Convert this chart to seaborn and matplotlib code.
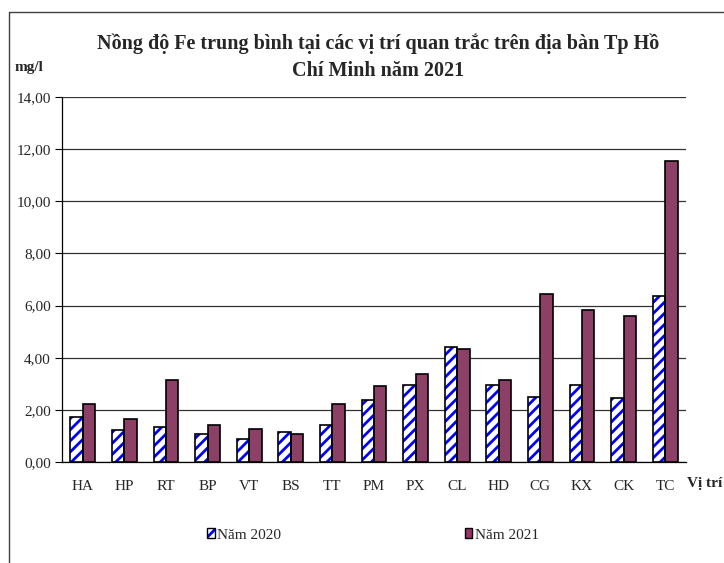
import numpy as np
import pandas as pd
import matplotlib
matplotlib.use("Agg")
import matplotlib.pyplot as plt
import seaborn as sns
from matplotlib.patches import Patch, Rectangle
from matplotlib.lines import Line2D


# ---- Data ----
vi_tri = ["HA", "HP", "RT", "BP", "VT", "BS", "TT", "PM",
          "PX", "CL", "HD", "CG", "KX", "CK", "TC"]
fe_2020 = [1.71, 1.24, 1.35, 1.09, 0.87, 1.15, 1.42, 2.37,
           2.97, 4.40, 2.97, 2.48, 2.97, 2.45, 6.37]
fe_2021 = [2.21, 1.64, 3.15, 1.43, 1.27, 1.09, 2.24, 2.92,
           3.39, 4.33, 3.16, 6.44, 5.84, 5.60, 11.55]
nam = ["Năm 2020", "Năm 2021"]
y_ticks = [0, 2, 4, 6, 8, 10, 12, 14]

RED = "#993366"
BLUE = "#0000ff"

sns.set_style("white")
plt.rcParams["font.family"] = ["Liberation Serif", "DejaVu Serif"]
plt.rcParams["hatch.linewidth"] = 2.0

df = pd.DataFrame({
    "Vi_tri": vi_tri * 2,
    "Fe": fe_2020 + fe_2021,
    "Nam": [nam[0]] * len(vi_tri) + [nam[1]] * len(vi_tri),
})

fig = plt.figure(figsize=(7.24, 5.63), dpi=100)
ax = fig.add_axes([62 / 724, 1 - 462 / 563, 624 / 724, 365 / 563])

sns.barplot(data=df, x="Vi_tri", y="Fe", hue="Nam", order=vi_tri,
            hue_order=nam, palette=["white", RED], width=0.6, gap=0,
            edgecolor="black", linewidth=1.2, legend=False, ax=ax,
            zorder=3)

# ---- Hatched 2020 bars: blue stripes, black outline ----
for p in ax.containers[0]:
    p.set_hatch("///")
    p.set_edgecolor(BLUE)
    p.set_linewidth(0)
    ax.add_patch(Rectangle((p.get_x(), p.get_y()), p.get_width(), p.get_height(),
                           fill=False, edgecolor="black", linewidth=1.2, zorder=4))

# ---- Axes styling ----
ax.set_ylim(0, 14)
ax.set_xlim(-0.5, len(vi_tri) - 0.5)
ax.set_yticks(y_ticks)
ax.set_yticklabels([f"{v:.2f}".replace(".", ",") for v in y_ticks], fontsize=11)
ax.set_xticks(range(len(vi_tri)))
ax.set_xticklabels(vi_tri, fontsize=11)
ax.set_xticks(np.arange(-0.5, len(vi_tri)), minor=True)
ax.tick_params(axis="x", which="major", length=0, pad=13)
ax.tick_params(axis="x", which="minor", length=5, color="#808080", direction="out")
ax.tick_params(axis="y", length=5, direction="out", color="black", pad=3, left=True)
ax.set_xlabel("")
ax.set_ylabel("")
ax.yaxis.grid(True, color="#333333", linewidth=0.9)
ax.set_axisbelow(True)
for s in ["top", "right"]:
    ax.spines[s].set_visible(False)
for s in ["left", "bottom"]:
    ax.spines[s].set_color("black")
    ax.spines[s].set_linewidth(0.9)

# ---- Texts ----
fig.text(378 / 724, 1 - 57 / 563,
         "Nồng độ Fe trung bình tại các vị trí quan trắc trên địa bàn Tp Hồ\nChí Minh năm 2021",
         ha="center", va="center", fontsize=14.5, fontweight="bold", linespacing=1.5)
fig.text(15 / 724, 1 - 68 / 563, "mg/l", ha="left", va="center",
         fontsize=11, fontweight="bold")
fig.text(722 / 724, 1 - 484 / 563, "Vị trí", ha="right", va="center",
         fontsize=11, fontweight="bold")

# ---- Legend ----
handles = [
    (Patch(facecolor="white", edgecolor=BLUE, hatch="///", linewidth=0),
     Patch(facecolor="none", edgecolor="black", linewidth=1.0)),
    Patch(facecolor=RED, edgecolor="black", linewidth=1.0),
]
fig.legend(handles, nam, loc="center", bbox_to_anchor=(373 / 724, 1 - 535 / 563),
           ncol=2, frameon=False, fontsize=11, handlelength=0.5,
           handleheight=0.6, handletextpad=0.15, columnspacing=12)

# ---- Chart area border ----
fig.add_artist(Line2D([9 / 724, 9 / 724], [0, 1 - 12 / 563], color="#404040",
                      linewidth=1.0, transform=fig.transFigure))
fig.add_artist(Line2D([9 / 724, 1], [1 - 12 / 563, 1 - 12 / 563], color="#404040",
                      linewidth=1.0, transform=fig.transFigure))

fig.savefig("out.png", dpi=100)
